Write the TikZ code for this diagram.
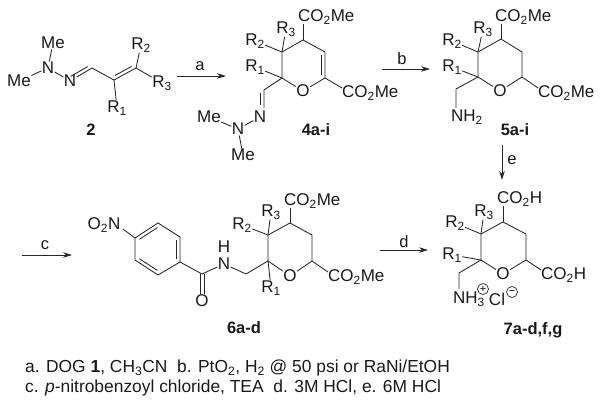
\documentclass[tikz,border=0pt]{standalone}
\usepackage{fontspec}
\setmainfont{Liberation Sans}
\usetikzlibrary{calc,arrows.meta}
\newcommand\sbs[1]{\textsubscript{#1}}
% inner line of a double bond: from, to, offset
\newcommand\innerbond[3]{\draw[bond,shorten >=3pt,shorten <=3pt] ($(#1)!#3!90:(#2)$) -- ($(#2)!#3!-90:(#1)$);}
\tikzset{
  x=1pt,y=-1pt,
  bond/.style={line width=0.85pt,black!85},
  rxn/.style={line width=0.85pt,black!85,-{Stealth[length=9pt,width=5.5pt]}},
  atom/.style={inner sep=0.3pt,font=\fontsize{17}{18}\selectfont,text=black!90},
  lab/.style={atom,anchor=west,inner sep=0pt,yshift=-1pt},
  num/.style={inner sep=0pt,font=\fontsize{16.5}{18}\selectfont\bfseries,text=black!90},
  condtext/.style={anchor=west,inner sep=0pt,font=\fontsize{17.4}{18}\selectfont,text=black!90},
  rea/.style={inner sep=0pt,font=\fontsize{16.5}{18}\selectfont,text=black!90},
  chg/.style={circle,draw=black!85,line width=0.7pt,inner sep=0pt,minimum size=11pt,font=\fontsize{11}{11}\selectfont},
}
\begin{document}
\begin{tikzpicture}
\useasboundingbox (0,0) rectangle (602,403);
% ---------- compound 2
\node[atom] (a2me1) at (53,43) {Me};
\node[atom] (a2n1) at (48,68) {N};
\node[atom] (a2me2) at (19,81) {Me};
\node[atom] (a2n2) at (70,81) {N};
\coordinate (a2c1) at (92,68);
\coordinate (a2c2) at (114,80);
\coordinate (a2c3) at (136,68);
\node[atom] (a2r2) at (141,45) {R\sbs{2}};
\node[atom] (a2r3) at (162,83) {R\sbs{3}};
\node[atom] (a2r1) at (117,108) {R\sbs{1}};
\node[num] (n2) at (91,130) {2};
\draw[bond] (a2n1)--(a2me1);
\draw[bond] (a2n1)--(a2me2);
\draw[bond] (a2n1)--(a2n2);
\draw[bond] (a2n2)--(a2c1)--(a2c2)--(a2c3)--(a2r3);
\draw[bond] (a2c2)--(a2r1);
\draw[bond] (a2c3)--(a2r2);
\innerbond{a2n2}{a2c1}{3.5pt}
\innerbond{a2c2}{a2c3}{3.5pt}
% ---------- arrow a
\coordinate (sa) at (177,76); \coordinate (ea) at (226,76);
\draw[rxn] (sa)--(ea);
\node[rea] (la) at (200,66) {a};
% ---------- compound 4
\coordinate (b2) at (282,78);
\coordinate (b3) at (282,52);
\coordinate (b4) at (303,40);
\coordinate (b5) at (325,52);
\coordinate (b6) at (325,78);
\node[atom] (bo) at (303,91) {O};
\coordinate (bim) at (264,90);
\coordinate (bnc) at (264,108);
\node[atom] (bn1) at (260,117) {N};
\node[atom] (bn2) at (238,129) {N};
\node[atom] (bme1) at (209,117) {Me};
\node[atom] (bme2) at (243,155) {Me};
\node[atom] (br1) at (255,67) {R\sbs{1}};
\node[atom] (br2) at (255,41) {R\sbs{2}};
\node[atom] (br3) at (286,29) {R\sbs{3}};
\node[lab] (be1) at (298,16) {CO\sbs{2}Me};
\node[lab] (be2) at (342,92) {CO\sbs{2}Me};
\node[num] (n4) at (316,130) {4a-i};
\coordinate (be1c) at (303,24);
\coordinate (be2c) at (342,88);
\draw[bond] (b2)--(b3)--(b4)--(b5)--(b6)--(bo)--(b2);
\innerbond{b5}{b6}{-3.5pt}
\draw[bond] (b4)--(be1c);
\draw[bond] (b6)--(be2c);
\draw[bond] (b3)--(br2);
\draw[bond] (b3)--(br3);
\draw[bond] (b2)--(br1);
\draw[bond] (b2)--(bim)--(bnc);
\innerbond{bim}{bnc}{-3.5pt}
\draw[bond] (bn1)--(bn2);
\draw[bond] (bn2)--(bme1);
\draw[bond] (bn2)--(bme2);
% ---------- arrow b
\coordinate (sb) at (382,69); \coordinate (eb) at (430,69);
\draw[rxn] (sb)--(eb);
\node[rea] (lb) at (402,59) {b};
% ---------- compound 5
\coordinate (c2) at (478,77);
\coordinate (c3) at (478,52);
\coordinate (c4) at (501,39);
\coordinate (c5) at (522,52);
\coordinate (c6) at (522,77);
\node[atom] (co) at (500,91) {O};
\coordinate (cch) at (456,89);
\node[atom] (cnh) at (467,117) {NH\sbs{2}};
\coordinate (cnhc) at (456,108);
\node[atom] (cr1) at (452,67) {R\sbs{1}};
\node[atom] (cr2) at (452,41) {R\sbs{2}};
\node[atom] (cr3) at (483,29) {R\sbs{3}};
\node[lab] (ce1) at (495,16) {CO\sbs{2}Me};
\node[lab] (ce2) at (538,92) {CO\sbs{2}Me};
\coordinate (ce1c) at (501,24);
\coordinate (ce2c) at (538,88);
\node[num] (n5) at (515,130) {5a-i};
\draw[bond] (c2)--(c3)--(c4)--(c5)--(c6)--(co)--(c2);
\draw[bond] (c4)--(ce1c);
\draw[bond] (c6)--(ce2c);
\draw[bond] (c3)--(cr2);
\draw[bond] (c3)--(cr3);
\draw[bond] (c2)--(cr1);
\draw[bond] (c2)--(cch)--(cnhc);
% ---------- arrow e
\coordinate (se) at (502,145); \coordinate (ee) at (502,180);
\draw[rxn] (se)--(ee);
\node[rea] (le) at (512,160) {e};
% ---------- arrow c
\coordinate (sc) at (22,255); \coordinate (ec) at (72,255);
\draw[rxn] (sc)--(ec);
\node[rea] (lc) at (45,245) {c};
% ---------- compound 6
\node[atom] (dno) at (104,225) {O\sbs{2}N};
\coordinate (dnoc) at (123,229);
\coordinate (p1) at (135,238);
\coordinate (p2) at (158,223);
\coordinate (p3) at (180,237);
\coordinate (p4) at (180,262);
\coordinate (p5) at (158,275);
\coordinate (p6) at (135,260);
\coordinate (dco) at (202,274);
\node[atom] (doo) at (202,301) {O};
\node[atom] (dn) at (224,264) {N};
\node[atom] (dh) at (224,247) {H};
\coordinate (dch) at (246,274);
\coordinate (d2) at (268,261);
\coordinate (d3) at (268,235);
\coordinate (d4) at (290,223);
\coordinate (d5) at (312,235);
\coordinate (d6) at (312,261);
\node[atom] (do) at (290,276) {O};
\node[atom] (dr1) at (271,288) {R\sbs{1}};
\node[atom] (dr2) at (242,225) {R\sbs{2}};
\node[atom] (dr3) at (271,212) {R\sbs{3}};
\node[lab] (de1) at (284,200) {CO\sbs{2}Me};
\node[lab] (de2) at (328,276) {CO\sbs{2}Me};
\coordinate (de1c) at (290,208);
\coordinate (de2c) at (328,272);
\node[num] (n6) at (244,328) {6a-d};
\draw[bond] (dnoc)--(p1)--(p2)--(p3)--(p4)--(p5)--(p6)--(p1);
\innerbond{p1}{p2}{-3.5pt}
\innerbond{p3}{p4}{-3.5pt}
\innerbond{p5}{p6}{-3.5pt}
\draw[bond] (p4)--(dco)--(dn);
\draw[bond,transform canvas={xshift=-2pt}] (dco)--(doo);
\draw[bond,transform canvas={xshift=2pt}] (dco)--(doo);
\draw[bond] (dn)--(dch)--(d2);
\draw[bond] (d2)--(d3)--(d4)--(d5)--(d6)--(do)--(d2);
\draw[bond] (d4)--(de1c);
\draw[bond] (d6)--(de2c);
\draw[bond] (d3)--(dr2);
\draw[bond] (d3)--(dr3);
\draw[bond] (d2)--(dr1);
% ---------- arrow d
\coordinate (sd) at (380,250); \coordinate (ed) at (428,250);
\draw[rxn] (sd)--(ed);
\node[rea] (ld) at (404,242) {d};
% ---------- compound 7
\coordinate (e2) at (481,260);
\coordinate (e3) at (481,234);
\coordinate (e4) at (503,222);
\coordinate (e5) at (526,234);
\coordinate (e6) at (526,260);
\node[atom] (eo) at (503,274) {O};
\coordinate (ech) at (459,273);
\coordinate (enc) at (459,289);
\node[atom] (enh) at (469,299) {NH\sbs{3}};
\node[chg] (eplus) at (483,289) {+};
\node[atom] (ecl) at (497,299) {Cl};
\node[chg] (eminus) at (512,292) {\textminus};
\node[atom] (er1) at (452,255) {R\sbs{1}};
\node[atom] (er2) at (455,223) {R\sbs{2}};
\node[atom] (er3) at (484,212) {R\sbs{3}};
\node[lab] (ee1) at (497,198) {CO\sbs{2}H};
\node[lab] (ee2) at (541,274) {CO\sbs{2}H};
\coordinate (ee1c) at (503,206);
\coordinate (ee2c) at (541,270);
\node[num] (n7) at (533,330) {7a-d,f,g};
\draw[bond] (e2)--(e3)--(e4)--(e5)--(e6)--(eo)--(e2);
\draw[bond] (e4)--(ee1c);
\draw[bond] (e6)--(ee2c);
\draw[bond] (e3)--(er2);
\draw[bond] (e3)--(er3);
\draw[bond] (e2)--(er1);
\draw[bond] (e2)--(ech)--(enc);
% ---------- conditions
\node[condtext] (cap1) at (25,368) {a. DOG \textbf{1}, CH\sbs{3}CN\ \ b. PtO\sbs{2}, H\sbs{2} @ 50 psi or RaNi/EtOH};
\node[condtext] (cap2) at (25,388) {c. \textit{p}-nitrobenzoyl chloride, TEA\ \ d. 3M HCl, e. 6M HCl};
\end{tikzpicture}
\end{document}
